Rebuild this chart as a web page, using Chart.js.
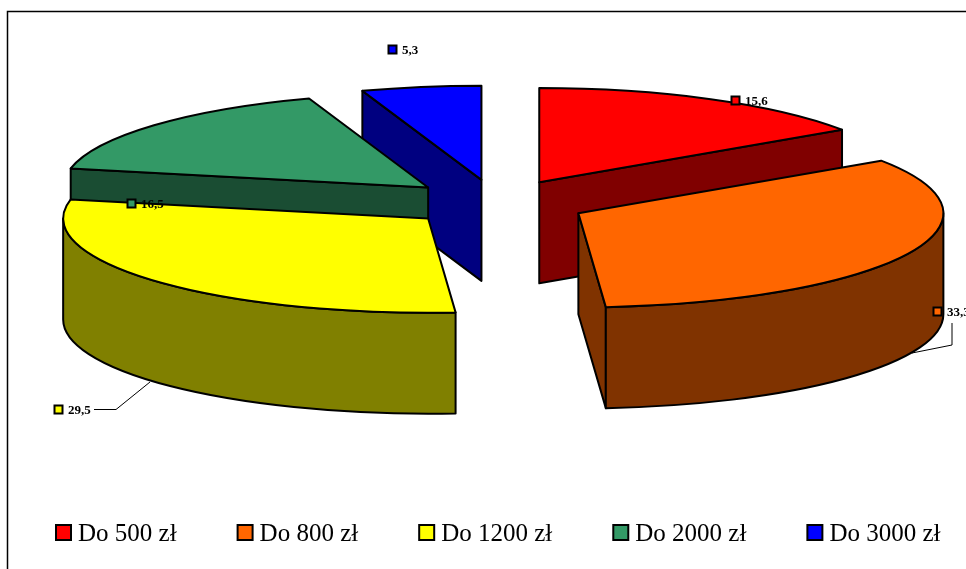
<!DOCTYPE html>
<html>
<head>
<meta charset="utf-8">
<style>
html,body{margin:0;padding:0;background:#fff;overflow:hidden}
canvas{display:block}
</style>
<script src="https://cdn.jsdelivr.net/npm/chart.js@4"></script>
</head>
<body>
<canvas id="c" width="966" height="569"></canvas>
<script>
const categories = ['Do 500 zł', 'Do 800 zł', 'Do 1200 zł', 'Do 2000 zł', 'Do 3000 zł'];
const values = [15.6, 33.3, 29.5, 16.5, 5.3];
const valueLabels = ['15,6', '33,3', '29,5', '16,5', '5,3'];
const topColors = ['#FF0000', '#FF6600', '#FFFF00', '#339966', '#0000FF'];
const wallColors = ['#800000', '#803300', '#808000', '#1A4D33', '#000080'];

// Projection of the flat pie into the tilted 3D view
const TILT = 0.258, DEPTH = 101, EXPLODE = 91, RADIUS = 365;
const FONT = '"Liberation Serif","Times New Roman",serif';
// Data label anchors [swatch x, swatch y], leader polylines
const labelAnchors = [[731, 96], [933, 307], [54, 405], [127, 199], [388, 45]];
const leaders = [null, [[952, 323], [952, 345], [912, 353]], [[94, 409.5], [116, 409.5], [150, 382]], null, null];

const pie3d = {
  id: 'pie3d',
  beforeDatasetsDraw(chart) {
    const ctx = chart.ctx;
    const arcs = chart.getDatasetMeta(0).data;
    const slices = arcs.map((arc, i) => {
      const p = arc.getProps(['x', 'y', 'startAngle', 'endAngle', 'outerRadius'], true);
      const mid = (p.startAngle + p.endAngle) / 2;
      return {
        arc, i,
        a0: p.startAngle, a1: p.endAngle,
        r: p.outerRadius, ox: p.x, oy: p.y,
        cx: p.x + Math.cos(mid) * EXPLODE,
        cy: p.y + Math.sin(mid) * EXPLODE * TILT
      };
    }).sort((a, b) => a.cy - b.cy);

    ctx.save();
    ctx.lineWidth = 2;
    ctx.strokeStyle = '#000';
    ctx.lineJoin = 'round';
    for (const s of slices) {
      const ry = s.r * TILT;
      const px = a => s.cx + Math.cos(a) * s.r;
      const py = a => s.cy + Math.sin(a) * ry;
      const wall = (a) => {
        ctx.beginPath();
        ctx.moveTo(s.cx, s.cy);
        ctx.lineTo(px(a), py(a));
        ctx.lineTo(px(a), py(a) + DEPTH);
        ctx.lineTo(s.cx, s.cy + DEPTH);
        ctx.closePath();
        ctx.fillStyle = wallColors[s.i];
        ctx.fill();
        ctx.stroke();
      };
      if (-Math.cos(s.a0) > 1e-6) wall(s.a0);
      if (Math.cos(s.a1) > 1e-6) wall(s.a1);
      const from = Math.max(s.a0, 0), to = Math.min(s.a1, Math.PI);
      if (to > from) {
        ctx.beginPath();
        ctx.ellipse(s.cx, s.cy, s.r, ry, 0, from, to);
        ctx.lineTo(px(to), py(to) + DEPTH);
        ctx.ellipse(s.cx, s.cy + DEPTH, s.r, ry, 0, to, from, true);
        ctx.closePath();
        ctx.fillStyle = wallColors[s.i];
        ctx.fill();
        ctx.stroke();
      }
      // top face: the library's own arc element, in the tilted frame
      ctx.save();
      ctx.translate(s.cx, s.cy);
      ctx.scale(1, TILT);
      ctx.translate(-s.ox, -s.oy);
      s.arc.draw(ctx);
      ctx.restore();
      ctx.beginPath();
      ctx.moveTo(s.cx, s.cy);
      ctx.ellipse(s.cx, s.cy, s.r, ry, 0, s.a0, s.a1);
      ctx.closePath();
      ctx.stroke();
    }
    ctx.restore();
    return false;
  },
  afterDraw(chart) {
    const ctx = chart.ctx;
    ctx.save();
    // frame
    ctx.strokeStyle = '#000';
    ctx.lineWidth = 1.5;
    ctx.beginPath();
    ctx.moveTo(7.5, 569);
    ctx.lineTo(7.5, 11.5);
    ctx.lineTo(966, 11.5);
    ctx.stroke();

    // data labels
    ctx.textBaseline = 'alphabetic';
    ctx.textAlign = 'left';
    valueLabels.forEach((t, i) => {
      const [x, y] = labelAnchors[i];
      ctx.fillStyle = topColors[i];
      ctx.fillRect(x + 0.5, y + 0.5, 8, 8);
      ctx.strokeStyle = '#000';
      ctx.lineWidth = 2;
      ctx.strokeRect(x + 0.5, y + 0.5, 8, 8);
      ctx.fillStyle = '#000';
      ctx.font = 'bold 13px ' + FONT;
      ctx.fillText(t, x + 14, y + 8.5);
      if (leaders[i]) {
        ctx.lineWidth = 1;
        ctx.beginPath();
        leaders[i].forEach((pt, k) => k ? ctx.lineTo(pt[0], pt[1]) : ctx.moveTo(pt[0], pt[1]));
        ctx.stroke();
      }
    });

    // legend
    ctx.font = '25px ' + FONT;
    let x = 56;
    categories.forEach((t, i) => {
      ctx.fillStyle = topColors[i];
      ctx.fillRect(x, 525, 15, 15);
      ctx.strokeStyle = '#000';
      ctx.lineWidth = 2;
      ctx.strokeRect(x, 525, 15, 15);
      ctx.fillStyle = '#000';
      ctx.fillText(t, x + 22, 541);
      x += 22 + ctx.measureText(t).width + 61;
    });
    ctx.restore();
  }
};

new Chart(document.getElementById('c'), {
  type: 'pie',
  data: {
    labels: categories,
    datasets: [{
      data: values,
      backgroundColor: topColors,
      borderWidth: 0,
      offset: 0
    }]
  },
  options: {
    responsive: false,
    animation: false,
    radius: RADIUS,
    layout: { padding: { left: 27, right: 0, top: 0, bottom: 163 } },
    plugins: { legend: { display: false }, tooltip: { enabled: false }, title: { display: false } }
  },
  plugins: [pie3d]
});
</script>
</body>
</html>
